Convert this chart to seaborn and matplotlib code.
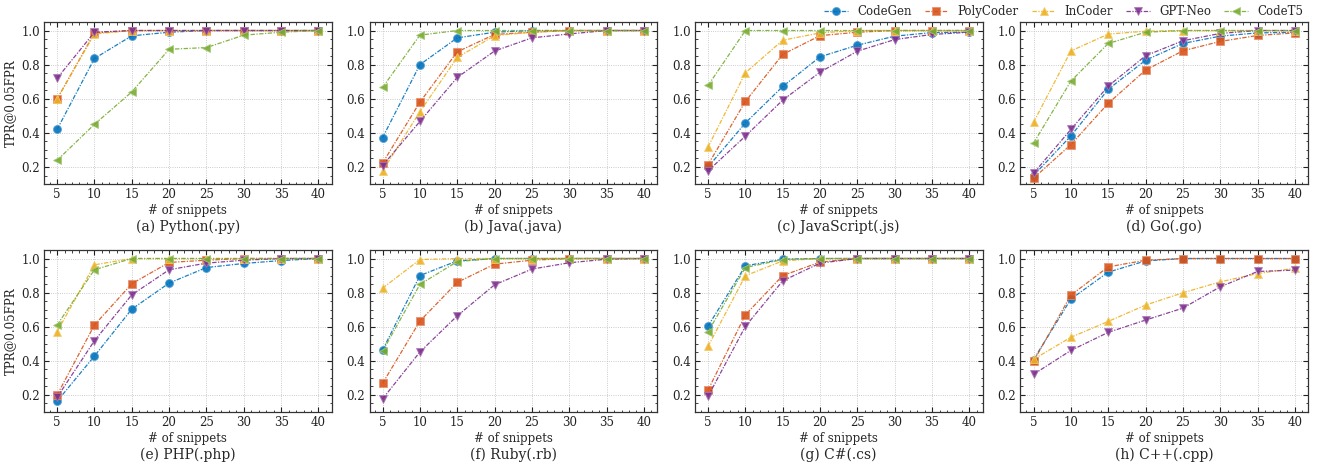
import numpy as np
import pandas as pd
import matplotlib
matplotlib.use("Agg")
import matplotlib.pyplot as plt
import seaborn as sns
from matplotlib.ticker import AutoMinorLocator
from matplotlib.colors import to_rgb

snippets = [5, 10, 15, 20, 25, 30, 35, 40]
models = ["CodeGen", "PolyCoder", "InCoder", "GPT-Neo", "CodeT5"]
panel_titles = ["(a) Python(.py)", "(b) Java(.java)", "(c) JavaScript(.js)", "(d) Go(.go)",
                "(e) PHP(.php)", "(f) Ruby(.rb)", "(g) C#(.cs)", "(h) C++(.cpp)"]

python_vals = {
    "CodeGen":   [0.42, 0.836, 0.969, 0.99, 1.0, 1.0, 1.0, 1.0],
    "PolyCoder": [0.598, 0.986, 1.0, 1.0, 1.0, 1.0, 1.0, 1.0],
    "InCoder":   [0.60, 0.98, 1.0, 1.0, 1.0, 1.0, 1.0, 1.0],
    "GPT-Neo":   [0.72, 0.99, 1.0, 1.0, 1.0, 1.0, 1.0, 1.0],
    "CodeT5":    [0.239, 0.45, 0.64, 0.89, 0.90, 0.973, 0.99, 1.0],
}
java_vals = {
    "CodeGen":   [0.372, 0.80, 0.957, 0.99, 1.0, 1.0, 1.0, 1.0],
    "PolyCoder": [0.223, 0.58, 0.875, 0.977, 0.99, 1.0, 1.0, 1.0],
    "InCoder":   [0.177, 0.524, 0.842, 0.97, 0.99, 1.0, 1.0, 1.0],
    "GPT-Neo":   [0.208, 0.467, 0.725, 0.88, 0.957, 0.98, 1.0, 1.0],
    "CodeT5":    [0.666, 0.973, 1.0, 1.0, 1.0, 1.0, 1.0, 1.0],
}
js_vals = {
    "CodeGen":   [0.20, 0.458, 0.672, 0.846, 0.914, 0.967, 0.988, 0.99],
    "PolyCoder": [0.214, 0.584, 0.86, 0.97, 0.99, 1.0, 1.0, 1.0],
    "InCoder":   [0.317, 0.752, 0.943, 0.986, 1.0, 1.0, 1.0, 1.0],
    "GPT-Neo":   [0.177, 0.381, 0.592, 0.756, 0.879, 0.947, 0.977, 0.99],
    "CodeT5":    [0.678, 1.0, 1.0, 1.0, 1.0, 1.0, 1.0, 1.0],
}
go_vals = {
    "CodeGen":   [0.15, 0.382, 0.655, 0.826, 0.924, 0.967, 0.986, 0.99],
    "PolyCoder": [0.134, 0.331, 0.573, 0.768, 0.881, 0.936, 0.971, 0.986],
    "InCoder":   [0.462, 0.88, 0.979, 0.996, 1.0, 1.0, 1.0, 1.0],
    "GPT-Neo":   [0.163, 0.42, 0.674, 0.852, 0.94, 0.983, 1.0, 1.0],
    "CodeT5":    [0.34, 0.703, 0.924, 0.99, 1.0, 1.0, 1.0, 1.0],
}
php_vals = {
    "CodeGen":   [0.163, 0.428, 0.703, 0.856, 0.947, 0.971, 0.988, 1.0],
    "PolyCoder": [0.20, 0.61, 0.852, 0.977, 0.99, 1.0, 1.0, 1.0],
    "InCoder":   [0.571, 0.963, 1.0, 1.0, 1.0, 1.0, 1.0, 1.0],
    "GPT-Neo":   [0.186, 0.518, 0.787, 0.934, 0.973, 0.99, 1.0, 1.0],
    "CodeT5":    [0.61, 0.934, 1.0, 1.0, 1.0, 1.0, 1.0, 1.0],
}
ruby_vals = {
    "CodeGen":   [0.463, 0.90, 0.986, 1.0, 1.0, 1.0, 1.0, 1.0],
    "PolyCoder": [0.268, 0.633, 0.86, 0.967, 0.99, 1.0, 1.0, 1.0],
    "InCoder":   [0.826, 0.994, 1.0, 1.0, 1.0, 1.0, 1.0, 1.0],
    "GPT-Neo":   [0.177, 0.452, 0.664, 0.846, 0.938, 0.975, 0.996, 1.0],
    "CodeT5":    [0.456, 0.848, 0.982, 1.0, 1.0, 1.0, 1.0, 1.0],
}
csharp_vals = {
    "CodeGen":   [0.604, 0.957, 0.996, 1.0, 1.0, 1.0, 1.0, 1.0],
    "PolyCoder": [0.229, 0.67, 0.90, 0.979, 1.0, 1.0, 1.0, 1.0],
    "InCoder":   [0.485, 0.899, 0.986, 1.0, 1.0, 1.0, 1.0, 1.0],
    "GPT-Neo":   [0.192, 0.602, 0.869, 0.973, 1.0, 1.0, 1.0, 1.0],
    "CodeT5":    [0.571, 0.947, 0.994, 1.0, 1.0, 1.0, 1.0, 1.0],
}
cpp_vals = {
    "CodeGen":   [0.407, 0.762, 0.92, 0.986, 1.0, 1.0, 1.0, 1.0],
    "PolyCoder": [0.397, 0.785, 0.951, 0.99, 1.0, 1.0, 1.0, 1.0],
    "InCoder":   [0.409, 0.538, 0.631, 0.727, 0.799, 0.863, 0.912, 0.943],
    "GPT-Neo":   [0.321, 0.461, 0.567, 0.639, 0.709, 0.834, 0.924, 0.932],
    "CodeT5":    None,
}
panels = [python_vals, java_vals, js_vals, go_vals, php_vals, ruby_vals, csharp_vals, cpp_vals]

colors = {"CodeGen": "#0072BD", "PolyCoder": "#D95319", "InCoder": "#EDB120",
          "GPT-Neo": "#7E2F8E", "CodeT5": "#77AC30"}
markers = {"CodeGen": "o", "PolyCoder": "s", "InCoder": "^", "GPT-Neo": "v", "CodeT5": "<"}


def lighten(c, f=0.35):
    r, g, b = to_rgb(c)
    return (r + (1 - r) * f, g + (1 - g) * f, b + (1 - b) * f)


sns.set_theme(style="ticks")
plt.rcParams["font.family"] = ["DejaVu Serif"]
plt.rcParams["mathtext.fontset"] = "dejavuserif"

fig, axes = plt.subplots(2, 4, figsize=(13.18, 4.75), dpi=100)
fig.subplots_adjust(left=0.0334, right=0.9924, top=0.9537, bottom=0.1326,
                    wspace=0.132, hspace=0.407)

for i, (ax, vals, title) in enumerate(zip(axes.flat, panels, panel_titles)):
    for m in models:
        if vals[m] is None:
            continue
        df = pd.DataFrame({"x": snippets, "y": vals[m]})
        sns.lineplot(data=df, x="x", y="y", ax=ax, color=colors[m], marker=markers[m],
                     linestyle=(0, (3.5, 1.2, 1, 1.2)), linewidth=0.9, markersize=5.8,
                     markeredgewidth=0.6, markeredgecolor=lighten(colors[m]), alpha=0.9,
                     label=m if i == 0 else None, legend=False)
    ax.set_xlim(3.25, 41.75)
    ax.set_ylim(0.1, 1.05)
    ax.set_xticks(snippets)
    ax.set_yticks([0.2, 0.4, 0.6, 0.8, 1.0])
    ax.xaxis.set_minor_locator(AutoMinorLocator(5))
    ax.yaxis.set_minor_locator(AutoMinorLocator(4))
    ax.tick_params(which="both", direction="in", top=True, right=True, labelsize=8.5,
                   colors="#222222", pad=3)
    ax.tick_params(which="major", length=3.5, width=0.8)
    ax.tick_params(which="minor", length=1.8, width=0.6)
    ax.grid(True, which="major", linestyle=":", linewidth=0.6, color="#bbbbbb")
    for s in ax.spines.values():
        s.set_linewidth(0.9)
        s.set_color("#333333")
    ax.set_xlabel("# of snippets", fontsize=8.5, labelpad=2)
    if i % 4 == 0:
        ax.set_ylabel("TPR@0.05FPR", fontsize=8.5, labelpad=3)
    else:
        ax.set_ylabel("")
    ax.text(0.5, -0.265, title, transform=ax.transAxes, ha="center", va="center",
            fontsize=10)

handles, labels = axes.flat[0].get_legend_handles_labels()
fig.legend(handles, labels, loc="upper right", bbox_to_anchor=(0.997, 1.012), ncol=5,
           frameon=False, fontsize=8.5, handlelength=2.0, columnspacing=1.1,
           handletextpad=0.8)

fig.savefig("out.png", dpi=100)
